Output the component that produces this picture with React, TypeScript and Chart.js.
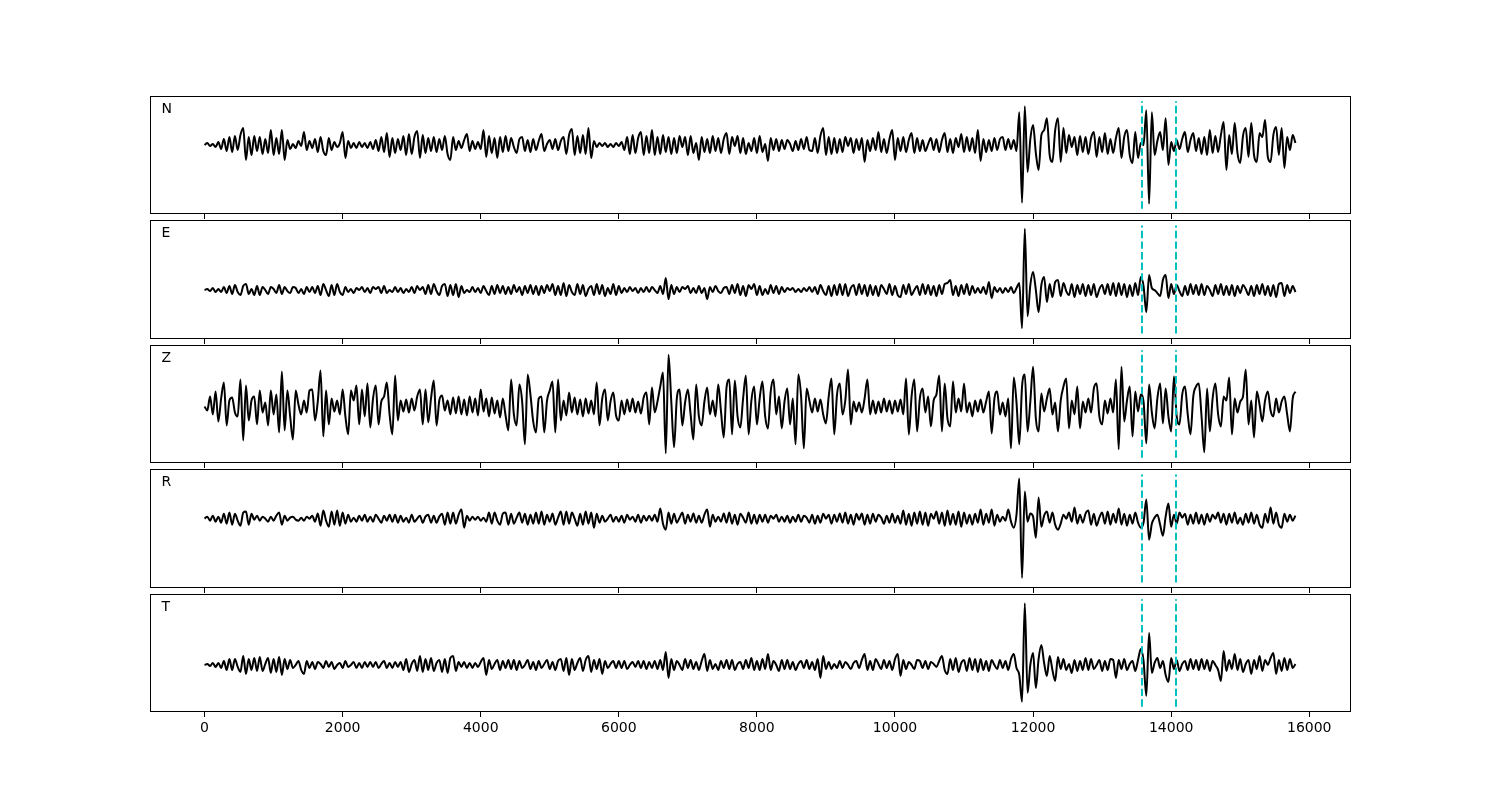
import React, { useEffect, useRef } from "react";
import { Chart, registerables } from "chart.js";

Chart.register(...registerables);

// ---------------- data ----------------
const DT = 40; // sampling interval (x units per sample), samples start at x = 0
const PICKS = [13577, 14070];
const X_TICKS = [0, 2000, 4000, 6000, 8000, 10000, 12000, 14000, 16000];
const X_MIN = -790;
const X_MAX = 16590;
const CHANNELS = ["N", "E", "Z", "R", "T"];

const TRACE_N = [
  0, 2, -1, 1, -2, 3, -4, 6, -6, 8,
  -7, 9, -5, 10, 17, -15, 8, -10, 9, -6,
  8, -9, 6, -8, 15, -10, 7, -9, 15, -15,
  5, -4, 1, -3, 4, -1, 13, -5, 4, -3,
  6, -7, 8, -6, -10, 7, -5, 3, -2, 2,
  13, -13, 4, -3, 2, -3, 3, -2, 2, -3,
  3, -4, 5, -6, 8, -7, 12, -12, 7, -8,
  6, -5, 9, -10, 11, -9, 8, 14, -13, 10,
  -8, 7, -6, 8, -7, 6, -5, 9, -9, -15,
  8, -5, 4, -3, 5, 11, -6, 4, -4, 3,
  -4, 15, -12, 9, -8, 7, -13, 8, -7, 9,
  -6, 7, -2, -8, 6, 8, -6, 5, -7, 6,
  -5, 4, 11, -6, 1, 5, -4, 6, -5, 4,
  8, -9, 10, 16, -10, 9, -8, 10, -9, 17,
  -13, 4, -2, 2, -1, 2, -2, 1, -2, 2,
  -1, 3, -5, 8, -9, 10, -8, 7, 13, -10,
  9, -8, 15, -10, 8, -9, 10, -7, 8, -9,
  7, -8, 9, -2, 8, -10, 9, -8, 2, -15,
  8, -7, 6, -8, 9, -6, 7, -8, 6, 12,
  -9, 8, -1, 9, -8, 7, -9, 2, -6, 7,
  -8, 9, -7, 1, -16, 7, -5, 6, -6, 5,
  -4, 5, 1, -6, 4, -5, 6, -4, 8, -5,
  -6, 7, -8, 9, 17, -10, 8, -9, 7, -8,
  6, -7, 8, -1, 7, -8, 6, -5, 7, -17,
  5, -6, 7, -5, 13, -7, 6, -8, 6, 15,
  -15, 7, -6, 8, -7, 5, 12, -8, 7, -6,
  5, -6, 1, 7, -5, 6, -7, 5, 12, -7,
  6, -8, 7, -2, 11, -7, 8, -6, 7, -8,
  15, -16, 6, -7, 5, -6, 7, -5, 6, 8,
  -5, 6, -4, 5, -6, 33, -58, 39, -27, 6,
  20, -8, -25, 10, 15, 27, -10, -17, 15, 27,
  -17, 17, -8, 10, -2, 8, -10, 9, -7, 8,
  -9, 7, 13, -12, 8, -7, 12, -9, 6, -8,
  7, 17, -13, 8, 15, -10, -18, 13, -13, 2,
  0, 35, -59, 33, -10, 4, 13, -5, 27, -20,
  3, -6, 5, -4, 6, 13, -7, 5, 12, -6,
  7, -9, 8, -10, 15, -8, 9, -7, 10, 23,
  -25, 10, -9, 22, -8, -18, 9, 17, -12, 22,
  -10, -17, 12, 8, 25, -12, -17, 10, 18, -10,
  17, -23, 8, -5, 10, 2,
];

const TRACE_E = [
  0, 1, -1, 2, -2, 1, -2, 3, -3, 4,
  -4, 5, -2, -5, 4, 6, -4, 1, -5, 4,
  -5, 3, 0, -4, 3, 1, -3, 5, -4, 3,
  -1, -3, 3, 2, -3, 1, -4, 3, -2, 3,
  -3, 4, -5, 6, 0, -6, 5, -5, 6, -2,
  -5, 3, -2, 1, -3, 2, 0, 3, -2, 2,
  -3, 3, 1, 3, -3, 4, -3, 0, -2, 3,
  -2, 2, -3, 1, -2, 3, -3, 4, 0, 3,
  -4, 5, -4, 6, -1, -5, 4, 6, -6, 5,
  -5, 6, -7, 4, -3, 0, -2, 3, -2, 2,
  -3, 4, -1, -5, 4, -4, 5, -3, 4, -4,
  3, -4, 5, -2, 3, -5, 4, -3, 5, -4,
  4, -5, 4, -3, 5, -1, 6, -5, 4, -5,
  7, -6, 5, -2, -5, 6, -4, 5, -6, 1,
  4, -5, 6, -4, 5, -6, 2, -4, 6, -5,
  4, -3, 2, -2, 3, -1, 2, -3, 2, -2,
  3, -2, 3, 0, -3, 4, -4, 12, -9, 5,
  -4, 3, -2, 3, 1, 4, -3, 2, -3, 4,
  -3, 2, -9, 3, -2, 4, -1, -3, 2, 3,
  -4, 5, -3, 6, -5, 4, -6, 5, 1, 6,
  -5, 4, -5, 1, -4, 5, -3, 4, -4, 3,
  -2, 2, 0, 2, -2, 1, -2, 2, -1, 3,
  -2, 3, -4, 5, -1, -5, 4, -6, 5, -5,
  6, -5, 6, -6, 2, 5, -5, 6, -4, 5,
  -6, 5, -5, 4, -6, 5, 1, -4, 6, -5,
  4, -5, -7, 5, -4, 6, -5, 0, 4, -5,
  6, -4, 5, -5, 4, -6, 5, -4, 6, 7,
  10, -5, 4, -6, 5, -4, 6, -5, 4, -3,
  2, -3, 3, -4, 8, -8, 3, -2, 2, -3,
  2, -2, 3, -3, 2, 7, -38, 61, -26, 5,
  18, 0, -22, 5, 13, -12, 6, -7, 8, 10,
  -6, 7, -1, -5, 6, -7, 5, -4, 6, -6,
  5, -5, 6, -7, 1, 5, -4, 6, -5, 7,
  -6, 7, -5, 6, -7, 5, -6, 7, -5, 13,
  4, -22, 15, 2, 0, -3, -6, 10, 15, -8,
  6, -4, 5, -1, -6, 4, -5, 6, -4, 5,
  -5, 6, -5, 4, 0, -6, 5, -4, 6, -5,
  4, -5, 5, -6, 4, -3, 5, 1, -5, 4,
  -6, 5, -4, 6, -5, 4, -6, 5, -7, 6,
  7, -6, 5, -3, 4, -2,
];

const TRACE_Z = [
  0, -4, 10, -8, 15, -15, 8, 24, -19, 6,
  9, -6, -10, 27, -34, 21, -14, 6, 10, -18,
  16, -6, 4, -19, 16, -8, 12, -26, 35, -24,
  16, -10, -33, 16, 2, -8, 6, -6, 16, 17,
  -14, 5, 36, -30, 16, -18, 8, -5, 6, -8,
  17, -10, -28, 16, 6, 21, -18, 17, -10, 23,
  -21, 8, 21, -18, 5, 10, 24, -8, -28, 31,
  -14, 6, -5, 7, -6, 8, -4, 10, 17, -18,
  17, -16, 8, 26, -19, 6, 11, -4, 6, -8,
  9, -7, 10, -8, 7, -9, 10, -6, 8, -9,
  17, -5, 8, -10, 9, -7, 6, -11, 8, -9,
  -24, 27, -8, -19, 22, 5, -38, 32, 12, -15,
  -26, 8, 10, -26, 6, 16, 25, -26, 27, -14,
  6, -9, 14, -6, 9, -8, 7, -10, 8, -7,
  6, -8, 24, -19, 8, 17, -14, 5, 14, -9,
  -14, 6, -8, 7, -5, 8, -6, 5, -7, 9,
  14, -18, 19, -6, 5, 20, 34, -47, 52, 5,
  -41, 8, 17, -19, 4, 17, -8, -33, 22, -10,
  -19, 5, 19, -8, 6, -10, 22, -5, -31, 19,
  27, -28, 26, -10, -21, 8, 31, -28, 6, 20,
  -18, 8, 25, -10, -22, 15, 27, -8, 10, -22,
  5, 18, -18, 8, -38, 32, 10, -42, 18, 6,
  -6, 8, -5, 7, -8, -17, 10, 28, -28, 12,
  23, -8, 6, 37, -18, 5, -5, 4, -6, 8,
  27, -8, 6, -7, 5, -6, 8, -5, 6, -7,
  6, -5, 7, -8, 28, -28, 10, 27, -25, 8,
  18, -6, 10, -20, 6, 12, 31, -25, 23, -12,
  -20, 25, -6, 8, -5, 23, -6, 4, -10, 6,
  -5, 7, -6, 5, 15, -27, 8, 15, -8, 4,
  -10, 8, -42, 29, 4, -38, 20, 32, -25, 5,
  40, -12, -25, 13, -5, 8, 18, -8, 4, -25,
  6, 20, 28, -22, 6, -8, 20, -22, 5, -6,
  8, -6, 18, 23, -10, -18, 6, -7, 8, -6,
  27, -43, 40, -15, 6, 20, -30, 15, -5, 12,
  5, -37, 22, -6, -22, 8, 23, -17, 18, -10,
  -25, 30, -10, -18, 12, 20, -8, -28, 10, 20,
  23, -10, -46, 18, -25, 8, 23, -8, -20, 10,
  6, 29, -28, 8, -6, 5, 10, 37, -18, 6,
  -31, 15, 2, -15, 6, 15, -4, -10, 8, -6,
  5, 10, -8, -25, 8, 15,
];

const TRACE_R = [
  0, 2, -2, 3, -3, 2, -4, 5, -5, 6,
  -6, 5, -2, -7, 6, 7, -6, 5, -1, 3,
  -2, 2, 0, -3, 2, -2, 3, 6, -6, 3,
  -2, 1, 2, -1, -2, 1, -2, 2, 0, 3,
  -3, 5, -7, 8, -2, -8, 7, -6, 8, -7,
  6, -5, 4, -3, 1, -3, 3, -2, 4, -3,
  2, -3, 4, 0, -4, 3, -2, 4, -3, 4,
  -4, 3, -3, 1, -4, 4, -3, 0, 3, -4,
  2, 4, -4, 3, -4, 2, 5, -6, 6, -5,
  6, -5, 4, 9, -9, 3, -2, 2, -1, 2,
  -2, 1, -3, 6, -5, 6, -2, -6, 5, 6,
  -6, 5, -5, 1, 6, -4, 5, -6, 4, -5,
  6, -5, 7, -6, 4, -3, 5, -6, 1, 7,
  -6, 7, -5, 6, 0, -7, 5, -6, 7, -5,
  6, -9, 5, -4, 3, -3, 0, 4, -3, 2,
  -3, 3, -4, 4, -1, 2, -3, 4, -4, 3,
  -2, 3, -2, 4, -3, 10, -5, -11, 6, -5,
  5, -4, 1, 6, -5, 4, -3, 5, -4, 3,
  -4, 4, 9, -8, 4, -3, 2, -3, 5, -4,
  6, -5, 4, -6, 5, 1, -4, 6, -5, 4,
  -5, 4, -3, 4, -4, 3, 0, 4, -3, 2,
  -3, 3, -4, 2, -3, 4, -3, 3, 1, -4,
  4, -5, 3, -4, 5, 0, 4, -5, 4, -3,
  5, -4, 6, -5, 4, -6, 5, -1, 5, -6,
  4, -5, 5, -3, 4, 1, -5, 3, -4, 5,
  -4, 3, -5, 8, -6, 5, -7, 6, -5, 7,
  -6, 6, -7, 5, 0, 7, -5, 6, -7, 8,
  -6, 5, -6, 7, -8, 6, -5, 4, -6, 5,
  -4, 9, -6, 5, -4, 9, -7, 4, -3, 2,
  -2, 9, -3, -9, 4, 40, -59, 27, -3, 5,
  2, -19, 21, -8, 3, 7, -4, 6, -6, -11,
  -5, 4, 0, 6, -3, 11, -5, 4, -4, 5,
  8, -6, 5, -7, 1, 6, -5, 7, -6, 5,
  -4, 10, -6, 5, -7, 4, -5, 6, -4, -9,
  -4, 19, -21, -5, 1, 4, -6, -17, 2, 15,
  -8, 4, -5, 6, 1, 5, -6, 4, -5, 6,
  -5, 4, -6, 5, -3, 4, 0, 6, -4, 5,
  -6, 5, -4, 6, -5, 1, -6, 5, -4, 6,
  -5, 4, -6, -9, 5, -4, 11, -5, 6, -6,
  -9, 5, -3, 4, -2, 3,
];

const TRACE_T = [
  0, 1, -1, 2, -2, 2, -3, 4, -5, 6,
  -5, 6, -2, -7, 9, -9, 6, -5, 7, -6,
  8, -6, 1, 7, -8, 6, -7, 8, -10, 6,
  -4, 5, -3, 0, 4, -5, -9, 4, -3, 3,
  -4, 3, 1, -3, 4, -2, 3, -4, 0, 2,
  -3, 4, -2, 0, 3, -3, 2, -3, 3, -2,
  3, -2, 3, -3, 1, 4, -3, 2, -3, 3,
  -2, 3, -5, 6, -7, 1, 5, -6, 9, -7,
  6, -5, 7, -6, 2, 5, -7, 6, -8, 7,
  9, -6, 3, -2, 3, -3, 2, -3, 2, -2,
  3, 7, -10, 5, -4, 1, 5, -5, 4, -3,
  5, -4, 5, -5, 4, -3, 0, 5, -4, 3,
  -5, 4, -3, 1, 5, -4, 3, -5, 4, 6,
  -6, 7, -10, 6, -5, 2, 7, -6, 5, 9,
  -7, 5, -4, 6, -9, 4, -3, 1, 4, -3,
  4, -3, 4, -4, 0, 3, -2, 4, -3, 4,
  -4, 3, -3, 4, -4, 5, -5, 13, -13, 6,
  -5, 4, 0, -5, 6, -3, 5, -4, 3, -5,
  4, 11, -6, 5, -4, 1, -5, 4, -3, 5,
  -4, 5, -5, 1, 3, -4, 5, -3, 7, -5,
  4, -5, 6, -4, 11, -5, 4, 0, -6, 5,
  -4, 5, -4, 3, -5, 1, 4, -3, 5, -4,
  3, -5, 6, -13, 9, -4, 3, -4, 1, -3,
  4, -3, 3, 0, -4, 2, 4, -3, 5, 11,
  -5, 4, -5, 6, 1, -4, 5, -3, 4, -5,
  6, 11, -11, 5, -4, 3, 0, -4, 5, 4,
  -3, 4, -4, 3, 1, -2, 4, 9, -5, -9,
  6, -5, 7, -7, 2, 5, -6, 7, -5, 6,
  -7, 6, -5, 4, -6, 5, 0, -4, 5, -3,
  4, -5, 6, 11, -3, -10, -37, 62, -28, 0,
  12, -23, 6, 20, 2, -11, 9, -5, -16, 8,
  -4, 6, -5, 1, -8, 5, -6, 4, -5, 7,
  -5, 6, -4, 0, 5, -6, 4, -5, 6, 5,
  -13, 5, -4, 6, -5, 1, 4, -6, 5, 16,
  4, -31, 32, -8, 2, 7, -3, 4, -10, -17,
  7, -4, 5, -6, 1, 4, -5, 6, -4, 5,
  -5, 6, -4, 5, -6, 4, 0, -5, -16, 14,
  -6, 5, -4, 11, -5, 6, -7, 1, 5, -9,
  5, -4, 9, -6, 5, 0, 7, 12, -9, 5,
  -6, 7, -5, 6, -3, 1,
];

const TRACES = [TRACE_N, TRACE_E, TRACE_Z, TRACE_R, TRACE_T];

// ---------------- layout ----------------
const PANEL_TOP = [96, 220, 345, 469, 594];
const PANEL_BOTTOM = [214, 339, 463, 588, 712];
// trace baseline offset from panel centre (amplitude units) and half-range
const AXIS_CENTER = [-10, 10.5, 2.5, -9.8, 12];
const AXIS_HALF = 59.2;
const PLOT_LEFT = 150;
const PLOT_RIGHT = 1350;
const PAD_TOP = 4;
const FONT = '"DejaVu Sans", "Liberation Sans", sans-serif';

function Panel({ idx }: { idx: number }) {
  const ref = useRef<HTMLCanvasElement | null>(null);
  const last = idx === TRACES.length - 1;
  const h = PANEL_BOTTOM[idx] - PANEL_TOP[idx];
  const axisH = last ? 40 : 6;
  const canvasH = PAD_TOP + h + axisH;

  useEffect(() => {
    const canvas = ref.current;
    if (!canvas) return;
    const center = AXIS_CENTER[idx];
    const yMin = center - AXIS_HALF;
    const yMax = center + AXIS_HALF;
    const pickLo = center - AXIS_HALF / 1.1;
    const pickHi = center + AXIS_HALF / 1.1;
    const trace = TRACES[idx];

    const framePlugin = {
      id: "frame" + idx,
      afterDraw(chart: any) {
        const { ctx, chartArea } = chart;
        const { left, top, right, bottom } = chartArea;
        ctx.save();
        ctx.strokeStyle = "#000";
        ctx.lineWidth = 1;
        ctx.strokeRect(left + 0.5, top + 0.5, right - left, bottom - top - 1);
        ctx.fillStyle = "#000";
        ctx.font = "14px " + FONT;
        ctx.textBaseline = "alphabetic";
        ctx.textAlign = "left";
        ctx.fillText(CHANNELS[idx], left + 11.5, top + 17);
        ctx.restore();
      },
    };

    const chart = new Chart(canvas, {
      type: "line",
      data: {
        datasets: [
          ...PICKS.map((p) => ({
            data: [
              { x: p, y: pickLo },
              { x: p, y: pickHi },
            ],
            borderColor: "#00BFBF",
            borderWidth: 2,
            borderDash: [7.4, 3.2],
            borderCapStyle: "butt" as const,
            pointRadius: 0,
            tension: 0,
            order: 0,
          })),
          {
            data: trace.map((v, i) => ({ x: i * DT, y: v })),
            borderColor: "#000",
            borderWidth: 2,
            pointRadius: 0,
            cubicInterpolationMode: "monotone" as const,
            borderJoinStyle: "round" as const,
            order: 1,
          },
        ],
      },
      options: {
        responsive: false,
        animation: false,
        devicePixelRatio: 1,
        events: [],
        layout: {
          padding: {
            left: PLOT_LEFT,
            right: 1500 - PLOT_RIGHT,
            top: PAD_TOP,
            bottom: 0,
          },
        },
        plugins: {
          legend: { display: false },
          tooltip: { enabled: false },
        },
        scales: {
          x: {
            type: "linear",
            min: X_MIN,
            max: X_MAX,
            afterBuildTicks: (scale: any) => {
              scale.ticks = X_TICKS.map((v) => ({ value: v }));
            },
            afterFit: (scale: any) => {
              scale.height = axisH;
            },
            grid: {
              drawOnChartArea: false,
              drawTicks: true,
              tickLength: 5,
              tickColor: "#000",
              tickWidth: 1,
            },
            border: { display: false },
            ticks: {
              display: last,
              color: "#000",
              padding: 3,
              maxRotation: 0,
              autoSkip: false,
              font: { family: FONT, size: 14 },
              callback: (v: any) => String(v),
            },
          },
          y: {
            type: "linear",
            display: false,
            min: yMin,
            max: yMax,
          },
        },
      },
      plugins: [framePlugin],
    } as any);
    return () => chart.destroy();
  }, [idx]);

  return (
    <canvas
      ref={ref}
      width={1500}
      height={canvasH}
      style={{
        position: "absolute",
        left: 0,
        top: PANEL_TOP[idx] - PAD_TOP,
        width: 1500,
        height: canvasH,
      }}
    />
  );
}

export default function App() {
  return (
    <div
      style={{
        position: "absolute",
        left: 0,
        top: 0,
        width: 1500,
        height: 800,
        background: "#fff",
      }}
    >
      {TRACES.map((_, i) => (
        <Panel key={i} idx={i} />
      ))}
    </div>
  );
}
